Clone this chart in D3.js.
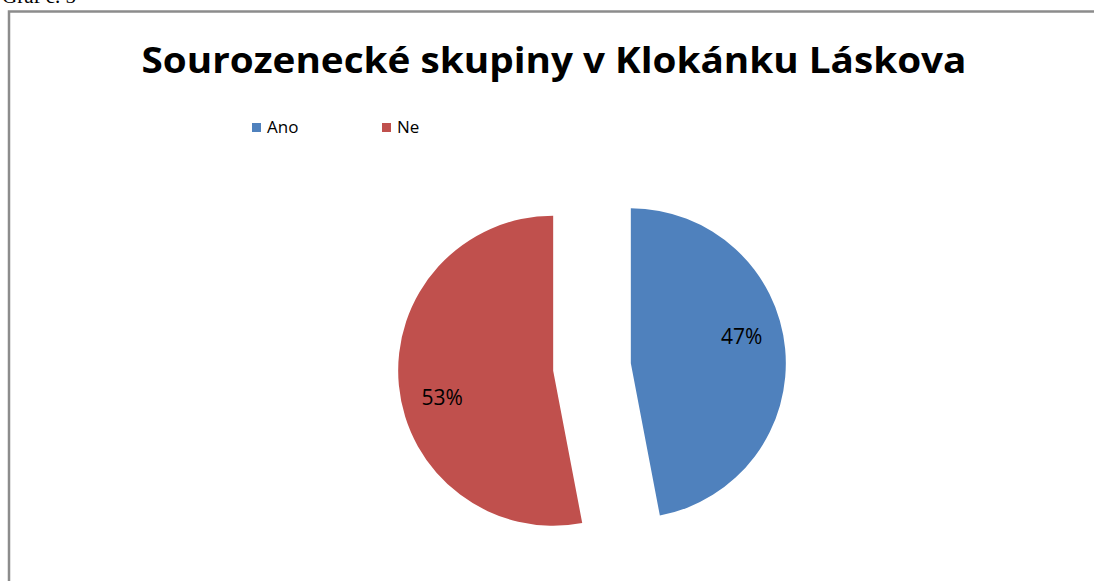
<!DOCTYPE html>
<html>
<head>
<meta charset="utf-8">
<script src="https://cdn.jsdelivr.net/npm/d3@7"></script>
<style>
  body { margin: 0; background: #fff; }
  svg { display: block; }
</style>
</head>
<body>
<div id="container"></div>
<script>
/* CONSTANTS AND GLOBALS */
const width = 1094, height = 581;

/* DATA */
const categories = ["Ano", "Ne"];
const shares = [47, 53];
const colors = ["#4F81BD", "#C0504D"];

const chartTitle = "Sourozenecké skupiny v Klokánku Láskova";
const caption = "Graf č. 5";

// pie geometry
const cx = 592, cy = 367, radius = 155, explode = 39;
const labelRadius = 114, labelShift = 8 * Math.PI / 180;

const svg = d3.select("#container")
  .append("svg")
  .attr("width", width)
  .attr("height", height);

// caption above the frame (cut off at the top, as in the source)
svg.append("text")
  .attr("x", 2)
  .attr("y", 3)
  .attr("font-family", "Liberation Serif, serif")
  .attr("font-size", 21)
  .attr("fill", "#000")
  .text(caption);

// chart frame
svg.append("rect")
  .attr("x", 9)
  .attr("y", 11.5)
  .attr("width", width)
  .attr("height", height)
  .attr("fill", "none")
  .attr("stroke", "#8c8c8c")
  .attr("stroke-width", 2.5);

// title
svg.append("text")
  .attr("x", 554)
  .attr("y", 73)
  .attr("text-anchor", "middle")
  .attr("font-family", "Open Sans, sans-serif")
  .attr("font-weight", "bold")
  .attr("font-size", 35)
  .attr("textLength", 825)
  .attr("lengthAdjust", "spacingAndGlyphs")
  .attr("fill", "#000")
  .text(chartTitle);

// legend
const legend = svg.append("g")
  .selectAll("g")
  .data(categories)
  .join("g")
  .attr("transform", (d, i) => "translate(" + (252 + i * 130) + ",123)");

legend.append("rect")
  .attr("width", 9)
  .attr("height", 9)
  .attr("fill", (d, i) => colors[i]);

legend.append("text")
  .attr("x", 15)
  .attr("y", 10)
  .attr("font-family", "Open Sans, sans-serif")
  .attr("font-size", 17)
  .attr("fill", "#000")
  .text(d => d);

// pie
const pie = d3.pie().sort(null).startAngle(0).endAngle(2 * Math.PI);
const arcs = pie(shares);
const arc = d3.arc().innerRadius(0).outerRadius(radius);
const total = d3.sum(shares);

const slices = svg.append("g")
  .attr("transform", "translate(" + cx + "," + cy + ")")
  .selectAll("g")
  .data(arcs)
  .join("g")
  .attr("transform", d => {
    const mid = (d.startAngle + d.endAngle) / 2;
    return "translate(" + (explode * Math.sin(mid)) + "," + (-explode * Math.cos(mid)) + ")";
  });

slices.append("path")
  .attr("d", arc)
  .attr("fill", (d, i) => colors[i]);

slices.append("text")
  .attr("x", d => labelRadius * Math.sin((d.startAngle + d.endAngle) / 2 - labelShift))
  .attr("y", d => -labelRadius * Math.cos((d.startAngle + d.endAngle) / 2 - labelShift))
  .attr("dy", "0.36em")
  .attr("text-anchor", "middle")
  .attr("font-family", "Open Sans, sans-serif")
  .attr("font-size", 21)
  .attr("fill", "#000")
  .text(d => Math.round(d.value / total * 100) + "%");
</script>
</body>
</html>
